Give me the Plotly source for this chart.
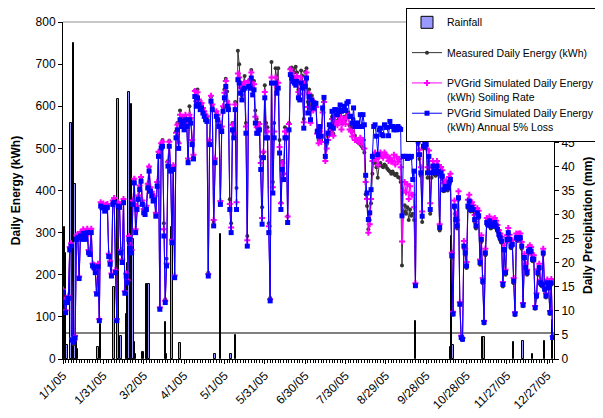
import pandas as pd
import plotly.graph_objects as go

START_DATE = "2005-01-01"
END_DATE = "2006-01-01"

# Measured daily energy (kWh), one value per day of 2005
MEASURED = [
    162,138,112,137,147,262,272,42,35,48,
    290,296,193,300,290,305,297,290,306,256,
    253,306,224,220,208,156,222,93,370,365,
    367,358,364,366,247,229,200,374,379,208,
    93,370,366,256,232,378,158,200,184,290,
    268,256,373,425,305,361,385,409,430,372,
    354,350,362,414,455,405,395,382,385,345,
    418,490,120,510,520,322,142,238,470,518,
    455,280,458,196,540,560,515,590,560,570,
    560,575,558,472,600,570,515,480,637,608,
    640,612,600,604,590,584,575,572,205,518,
    622,600,325,474,585,578,560,372,548,597,
    640,665,635,600,379,322,560,540,610,406,
    732,700,645,625,655,672,560,292,660,658,
    686,650,660,590,570,560,560,480,360,490,
    650,560,550,322,145,705,420,560,690,660,
    690,520,371,470,440,550,545,338,560,690,
    692,688,680,694,680,640,630,685,672,570,
    682,690,610,640,595,625,600,610,605,545,
    520,548,520,590,612,478,510,528,545,540,
    575,535,578,565,558,570,580,560,565,575,
    566,580,585,555,550,540,570,530,520,515,
    512,510,505,500,490,391,363,308,330,370,
    440,470,465,455,430,460,465,458,455,462,
    458,452,448,445,440,445,440,436,440,432,
    430,420,222,350,365,345,360,330,355,340,
    345,330,176,520,510,475,435,325,500,505,
    500,430,470,345,430,450,438,435,450,438,
    305,432,428,398,400,405,400,412,420,240,
    105,358,328,310,378,128,48,45,262,248,
    216,358,368,350,355,350,325,310,342,334,
    224,278,180,84,246,318,316,322,310,312,
    315,318,310,302,290,282,276,172,255,200,
    278,295,280,263,268,180,104,283,280,282,
    283,262,125,236,212,200,251,255,251,232,
    232,119,146,200,212,176,172,247,162,146,
    176,166,107,176,49,
]

# PVGrid simulated daily energy (kWh), soiling rate
SOILING = [
    165,140,116,140,150,266,275,48,44,55,
    293,297,196,301,292,308,299,292,309,259,
    255,309,227,224,211,159,226,95,372,367,
    369,360,366,368,250,232,203,376,382,211,
    95,372,368,259,236,380,161,203,187,292,
    270,259,376,428,308,364,388,412,432,376,
    356,352,364,416,457,408,397,384,387,347,
    420,492,122,512,516,308,138,227,468,516,
    456,283,460,198,537,556,512,580,563,575,
    556,580,563,476,580,572,520,485,636,612,
    633,616,604,608,596,588,580,576,202,520,
    625,604,330,476,588,580,564,375,552,600,
    632,660,612,604,368,312,556,537,604,372,
    678,668,644,628,652,656,552,282,660,656,
    680,640,652,575,550,550,558,465,335,492,
    634,540,540,315,142,668,408,540,668,645,
    656,503,370,465,440,540,540,338,558,688,
    680,672,668,664,672,634,628,668,656,562,
    660,680,598,630,560,615,590,600,598,535,
    512,540,515,585,610,470,500,520,540,535,
    570,530,575,560,555,565,575,545,560,570,
    558,575,580,545,540,528,560,520,520,518,
    515,525,510,520,500,420,380,300,320,380,
    470,485,490,475,460,480,490,482,478,490,
    485,480,470,478,468,470,485,462,480,468,
    475,455,279,400,420,395,415,380,410,390,
    390,360,180,540,528,497,455,350,520,528,
    522,455,495,370,455,470,460,455,470,460,
    320,456,448,418,420,424,420,432,440,252,
    112,376,345,330,398,135,55,50,280,262,
    230,378,390,370,372,365,342,326,358,352,
    236,294,192,90,262,335,332,338,328,327,
    332,335,328,318,306,298,290,183,270,212,
    294,311,295,278,282,192,111,298,296,298,
    298,278,133,250,226,212,266,270,266,246,
    246,126,156,213,226,188,184,262,172,156,
    189,177,114,190,54,
]

# PVGrid simulated daily energy (kWh), annual 5% loss
LOSS5 = [
    159,135,110,134,144,259,268,45,40,50,
    284,288,191,292,284,298,290,284,300,252,
    248,300,221,217,205,154,219,91,363,359,
    360,351,358,360,243,225,197,367,372,205,
    91,363,360,252,229,371,156,197,181,284,
    262,252,367,418,300,355,379,402,422,367,
    347,343,355,406,446,398,387,375,378,339,
    410,481,118,501,505,292,134,221,458,505,
    446,276,450,193,525,544,500,568,552,564,
    544,568,552,466,568,560,509,475,623,600,
    620,604,592,596,584,576,568,564,197,509,
    612,592,316,466,576,568,552,367,540,588,
    620,647,600,592,355,300,544,525,592,355,
    663,655,631,615,639,643,536,268,647,643,
    667,627,639,560,536,536,544,450,320,478,
    620,525,525,300,138,655,394,525,655,631,
    643,489,355,450,426,525,525,324,544,675,
    667,659,655,650,659,620,615,655,643,548,
    647,667,584,623,568,615,596,607,607,540,
    529,552,529,596,621,481,517,536,556,552,
    588,548,592,592,580,590,603,588,590,600,
    590,607,611,576,576,560,596,552,560,560,
    552,580,552,580,556,436,394,331,347,402,
    481,552,556,529,485,544,548,533,530,556,
    550,550,530,564,552,552,544,550,544,552,
    548,545,340,481,481,481,476,481,478,481,
    426,446,174,529,517,485,442,339,505,513,
    509,442,481,355,442,458,446,442,458,446,
    312,442,434,402,406,410,406,418,426,245,
    107,363,331,316,383,130,51,47,268,252,
    221,363,375,355,360,355,331,316,347,340,
    229,284,185,87,252,324,320,328,316,316,
    320,324,316,308,296,288,280,177,260,205,
    284,300,284,268,272,185,107,288,285,288,
    288,268,128,241,217,205,256,260,256,237,
    237,122,150,205,217,181,177,252,166,150,
    181,170,110,181,51,
]

# Rainfall: day offset from START_DATE and amount (mm)
RAIN_DAY = [0, 1, 2, 3, 6, 7, 8, 9, 10, 11, 26, 28, 38, 41, 43, 47, 48, 49, 50, 51,
            52, 53, 54, 59, 60, 62, 63, 64, 76, 77, 81, 87, 113, 117, 125, 128,
            262, 288, 289, 290, 312, 313, 335, 342, 349, 358, 364]
RAIN_MM = [2, 27.5, 22, 3, 49, 19, 65.7, 36.4, 4, 2, 2.5, 7.2, 15, 54, 4.8, 9.3, 20, 55.5, 48, 53,
           25, 3.5, 1, 1.5, 1.4, 15.5, 15.5, 15.5, 7.7, 1, 27.5, 3.3, 1, 26, 1, 5,
           7.9, 2.5, 25.5, 3, 4.6, 4.6, 3.5, 3.7, 1, 3.7, 8]
RAIN_TICKS = [0, 5, 10, 15, 20, 25, 30, 35, 40, 45]

REFERENCE_MM = 5.4
ENERGY_RANGE = [0, 800]
RAIN_RANGE = [0, 70]

DAY_MS = 86400000
dates = pd.date_range(START_DATE, periods=len(LOSS5), freq="D")
rain_dates = pd.Timestamp(START_DATE) + pd.to_timedelta(RAIN_DAY, unit="D")

FONT = "Liberation Sans, Arial, sans-serif"
# the page body adds an 8px margin around the figure
PAGE_OFFSET = 8
W, H = 603 - PAGE_OFFSET, 418 - PAGE_OFFSET
ML, MR, MT, MB = 63 - PAGE_OFFSET, 49, 22 - PAGE_OFFSET, 59

fig = go.Figure()

fig.add_trace(go.Bar(
    x=rain_dates, y=RAIN_MM, name="Rainfall<br> ", yaxis="y", xaxis="x",
    width=DAY_MS,
    marker=dict(color="#9999FF", line=dict(color="black", width=1)),
))

fig.add_trace(go.Scatter(
    x=dates, y=MEASURED, name="Measured Daily Energy (kWh)<br> ", yaxis="y2",
    mode="lines+markers",
    line=dict(color="#333333", width=1),
    marker=dict(symbol="circle", size=4, color="#333333"),
))
fig.add_trace(go.Scatter(
    x=dates, y=SOILING, name="PVGrid Simulated Daily Energy<br>(kWh) Soiling Rate", yaxis="y2",
    mode="lines+markers",
    line=dict(color="#FF00FF", width=1),
    marker=dict(symbol="cross", size=5, color="#FF00FF"),
))
fig.add_trace(go.Scatter(
    x=dates, y=LOSS5, name="PVGrid Simulated Daily Energy<br>(kWh) Annual 5% Loss", yaxis="y2",
    mode="lines+markers",
    line=dict(color="#0000FF", width=1),
    marker=dict(symbol="square", size=5, color="#0000FF"),
))

fig.update_layout(
    width=W, height=H,
    margin=dict(l=ML, r=MR, t=MT, b=MB, autoexpand=False),
    paper_bgcolor="white", plot_bgcolor="white",
    font=dict(family=FONT, size=12, color="black"),
    bargap=0,
    showlegend=True,
    legend=dict(
        xref="container", yref="container",
        x=(406 - PAGE_OFFSET) / W, y=1, xanchor="left", yanchor="top",
        bgcolor="white", bordercolor="black", borderwidth=1,
        font=dict(size=10.5), valign="top", itemwidth=30,
        traceorder="normal",
    ),
    xaxis=dict(
        type="date", range=[START_DATE, END_DATE],
        tick0=START_DATE, dtick=30 * DAY_MS, tickformat="%-m/%-d/%y",
        tickangle=-45, ticks="outside", ticklen=4, tickcolor="black",
        showline=True, linecolor="black", linewidth=1, showgrid=False, zeroline=False,
        minor=dict(dtick=2 * DAY_MS, tick0=START_DATE, ticks="outside", ticklen=3, tickcolor="black"),
        tickfont=dict(size=12),
    ),
    yaxis=dict(
        range=RAIN_RANGE, tickmode="array", tickvals=RAIN_TICKS, side="right",
        showline=True, linecolor="black", linewidth=1,
        ticks="outside", ticklen=4, tickcolor="black",
        showgrid=False, zeroline=False,
    ),
    yaxis2=dict(
        range=ENERGY_RANGE, dtick=100, side="left", overlaying="y",
        showline=True, linecolor="black", linewidth=1,
        ticks="outside", ticklen=4, tickcolor="black",
        showgrid=False, zeroline=False,
        title=dict(text="<b>Daily Energy (kWh)</b>", standoff=12, font=dict(size=12)),
    ),
    annotations=[
        dict(text="<b>Daily Precipitation (mm)</b>", textangle=-90,
             xref="paper", yref="paper", x=1, xshift=34,
             y=(359 - 226) / (H - MT - MB),
             xanchor="center", yanchor="middle", showarrow=False,
             font=dict(size=12, color="black", family=FONT)),
    ],
    shapes=[
        dict(type="line", xref="paper", yref="y", x0=0, x1=1, y0=REFERENCE_MM, y1=REFERENCE_MM,
             line=dict(color="black", width=1), layer="below"),
        dict(type="line", xref="paper", yref="paper", x0=0, x1=1, y0=1, y1=1,
             line=dict(color="#909090", width=1)),
    ],
)

fig.write_html("out.html")
